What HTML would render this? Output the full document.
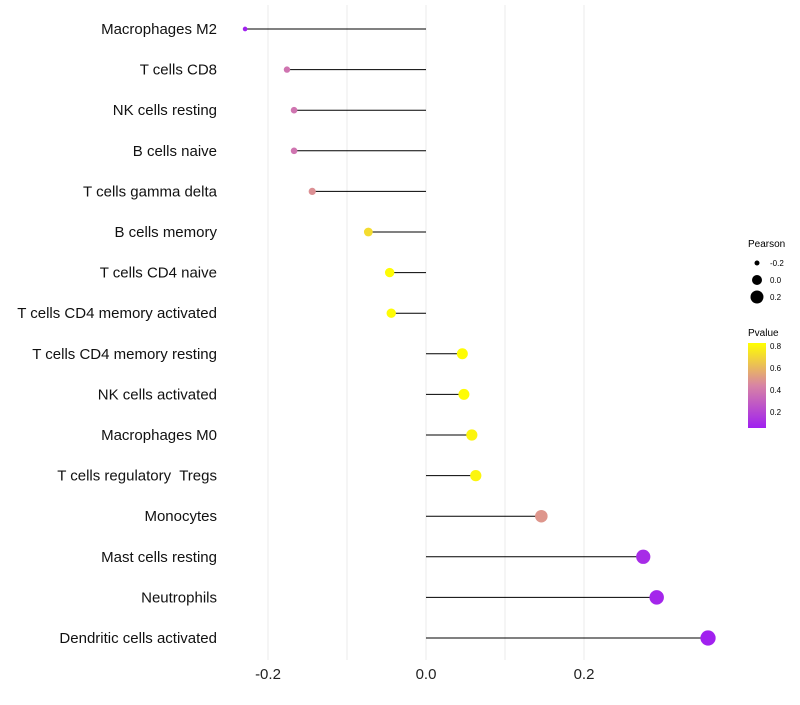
<!DOCTYPE html>
<html><head><meta charset="utf-8"><style>
body{margin:0;background:#fff;font-family:"Liberation Sans",sans-serif}
</style></head><body>
<svg id="chart" width="800" height="700" xmlns="http://www.w3.org/2000/svg">
<defs><linearGradient id="pg" x1="0" y1="1" x2="0" y2="0"><stop offset="0" stop-color="#a020f0"/><stop offset="0.5" stop-color="#d884a4"/><stop offset="1" stop-color="#ffff00"/></linearGradient></defs>
<g id="grid"></g><g id="marks"></g><g id="labels"></g>
<g font-size="10" fill="#000">
<text x="748" y="247">Pearson</text>
<circle cx="757" cy="263" r="2.5"/><text x="770" y="266" font-size="8">-0.2</text>
<circle cx="757" cy="280" r="5"/><text x="770" y="283" font-size="8">0.0</text>
<circle cx="757" cy="297" r="6.5"/><text x="770" y="300" font-size="8">0.2</text>
</g>
<g fill="#000">
<text x="748" y="336" font-size="10">Pvalue</text>
<rect x="748" y="343" width="18" height="85" fill="url(#pg)"/>
<text x="770" y="349" font-size="8">0.8</text>
<text x="770" y="371" font-size="8">0.6</text>
<text x="770" y="393" font-size="8">0.4</text>
<text x="770" y="415" font-size="8">0.2</text>
</g>
</svg>
<script>
const categories=["Macrophages M2","T cells CD8","NK cells resting","B cells naive","T cells gamma delta","B cells memory","T cells CD4 naive","T cells CD4 memory activated","T cells CD4 memory resting","NK cells activated","Macrophages M0","T cells regulatory  Tregs","Monocytes","Mast cells resting","Neutrophils","Dendritic cells activated"];
const pearson=[-0.229,-0.176,-0.167,-0.167,-0.144,-0.073,-0.046,-0.044,0.046,0.048,0.058,0.063,0.146,0.275,0.292,0.357];
const pvalue=[0.06,0.38,0.38,0.38,0.48,0.72,0.82,0.82,0.82,0.82,0.8,0.8,0.5,0.1,0.08,0.06];
const xTicks=[-0.2,0,0.2];
const xTickLabels=["-0.2","0.0","0.2"];
const gridVals=[-0.2,-0.1,0,0.1,0.2];
const NS="http://www.w3.org/2000/svg";
const xs=v=>426+v*790;
const ys=i=>29+i*40.6;
function lerp(a,b,t){return a.map((v,k)=>Math.round(v+(b[k]-v)*t));}
const col=p=>{let t=Math.max(0,Math.min(1,(p-0.055)/(0.83-0.055)));const c=t<0.5?lerp([160,32,240],[216,132,164],t*2):lerp([216,132,164],[255,255,0],(t-0.5)*2);return `rgb(${c[0]},${c[1]},${c[2]})`;};
const rad=v=>Math.sqrt(Math.max(2,26+90*v));
function mk(tag,at,parent){const e=document.createElementNS(NS,tag);for(const k in at)e.setAttribute(k,at[k]);document.getElementById(parent).appendChild(e);return e;}
gridVals.forEach(v=>{const l=mk('line',{x1:xs(v),x2:xs(v),y1:5,y2:660,stroke:'#ebebeb','stroke-width':1},'grid');

});
xTicks.forEach((v,i)=>{const t=mk('text',{x:xs(v),y:679,'text-anchor':'middle','font-size':15,fill:'#222'},'labels');t.textContent=xTickLabels[i];

});
categories.forEach((c,i)=>{
const y=ys(i);
const l=mk('line',{x1:xs(0),x2:xs(pearson[i]),y1:y,y2:y,stroke:'#000','stroke-width':1},'marks');


const d=mk('circle',{cx:xs(pearson[i]),cy:y,r:rad(pearson[i]),fill:col(pvalue[i])},'marks');


const t=mk('text',{x:217,y:y+5,'text-anchor':'end','font-size':15,fill:'#111'},'labels');t.textContent=c;


t.setAttribute('xml:space','preserve');
t.style.whiteSpace='pre';
});
</script>
</body></html>
